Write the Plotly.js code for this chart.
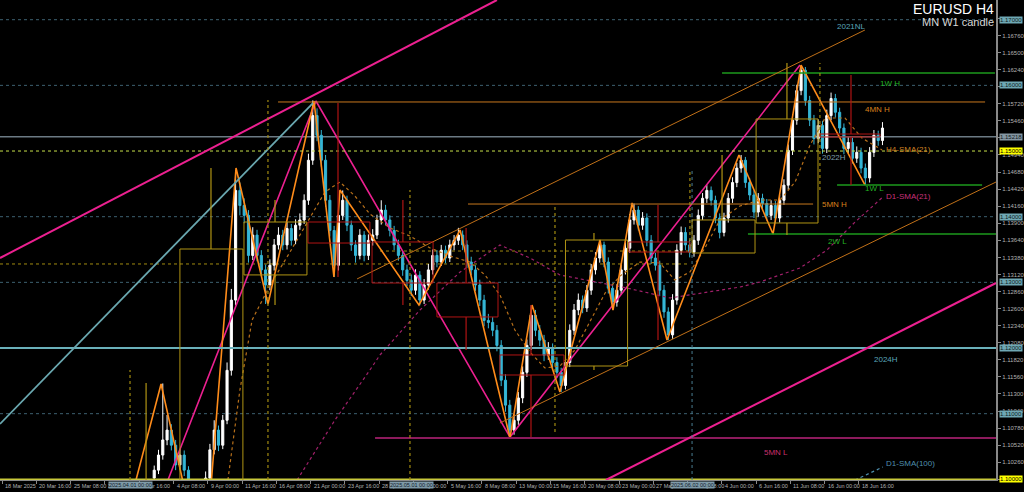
<!DOCTYPE html>
<html><head><meta charset="utf-8">
<script src="https://cdn.plot.ly/plotly-3.0.1.min.js"></script>
<style>html,body{margin:0;padding:0;background:#000;}#chart{width:1024px;height:492px;}</style>
</head><body><div id="chart"></div>
<script>
// ---------- DATA ----------
// candles: H4 bar index of first candle, two H4 bars per candle
const firstBar = 72;
const barsPerCandle = 2;
const openP = [1.1002,1.1014,1.1037,1.1060,1.1075,1.1052,1.1022,1.1037,1.1014,1.0991,
1.0976,1.0968,1.0984,1.1002,1.1045,1.1075,1.1052,1.1090,1.1166,1.1273,
1.1440,1.1417,1.1402,1.1341,1.1372,1.1341,1.1319,1.1296,1.1326,1.1357,
1.1372,1.1357,1.1382,1.1364,1.1387,1.1395,1.1425,1.1486,1.1554,1.1524,
1.1486,1.1425,1.1379,1.1326,1.1402,1.1425,1.1387,1.1357,1.1341,1.1372,
1.1341,1.1364,1.1372,1.1395,1.1410,1.1395,1.1379,1.1357,1.1341,1.1319,
1.1303,1.1288,1.1311,1.1273,1.1296,1.1319,1.1341,1.1331,1.1349,1.1337,
1.1357,1.1364,1.1372,1.1357,1.1331,1.1319,1.1296,1.1273,1.1242,1.1239,
1.1227,1.1204,1.1151,1.1113,1.1075,1.1090,1.1124,1.1163,1.1204,1.1250,
1.1227,1.1212,1.1189,1.1200,1.1178,1.1163,1.1143,1.1178,1.1227,1.1258,
1.1273,1.1261,1.1288,1.1319,1.1337,1.1357,1.1331,1.1291,1.1270,1.1288,
1.1319,1.1352,1.1395,1.1410,1.1387,1.1398,1.1364,1.1337,1.1326,1.1288,
1.1255,1.1220,1.1273,1.1349,1.1376,1.1357,1.1346,1.1364,1.1402,1.1428,
1.1440,1.1425,1.1398,1.1376,1.1398,1.1428,1.1452,1.1474,1.1486,1.1452,
1.1433,1.1407,1.1428,1.1420,1.1402,1.1417,1.1398,1.1425,1.1448,1.1501,
1.1547,1.1592,1.1623,1.1577,1.1547,1.1519,1.1539,1.1504,1.1554,1.1580,
1.1559,1.1535,1.1504,1.1513,1.1489,1.1498,1.1474,1.1459,1.1498,1.1524,
1.1516];
const highP = [1.1021,1.1045,1.1146,1.1098,1.1084,1.1060,1.1046,1.1044,1.1020,1.0998,
1.0984,1.0992,1.1012,1.1054,1.1090,1.1082,1.1098,1.1178,1.1290,1.1471,
1.1452,1.1428,1.1410,1.1384,1.1380,1.1349,1.1327,1.1335,1.1366,1.1384,
1.1380,1.1392,1.1389,1.1396,1.1405,1.1434,1.1496,1.1577,1.1565,1.1532,
1.1494,1.1433,1.1386,1.1410,1.1440,1.1432,1.1394,1.1364,1.1381,1.1378,
1.1373,1.1381,1.1403,1.1425,1.1418,1.1402,1.1386,1.1365,1.1348,1.1327,
1.1312,1.1320,1.1317,1.1305,1.1328,1.1350,1.1349,1.1357,1.1356,1.1365,
1.1372,1.1383,1.1379,1.1364,1.1339,1.1326,1.1304,1.1281,1.1252,1.1247,
1.1235,1.1212,1.1160,1.1121,1.1099,1.1133,1.1172,1.1213,1.1265,1.1258,
1.1235,1.1220,1.1209,1.1207,1.1186,1.1170,1.1187,1.1236,1.1267,1.1283,
1.1280,1.1296,1.1328,1.1346,1.1364,1.1362,1.1338,1.1298,1.1297,1.1327,
1.1361,1.1404,1.1420,1.1416,1.1407,1.1405,1.1372,1.1345,1.1333,1.1296,
1.1262,1.1282,1.1358,1.1385,1.1384,1.1365,1.1372,1.1411,1.1436,1.1448,
1.1446,1.1432,1.1405,1.1406,1.1436,1.1460,1.1482,1.1494,1.1491,1.1459,
1.1440,1.1436,1.1435,1.1427,1.1425,1.1424,1.1433,1.1457,1.1510,1.1556,
1.1601,1.1630,1.1628,1.1584,1.1555,1.1548,1.1546,1.1563,1.1589,1.1587,
1.1566,1.1542,1.1521,1.1520,1.1507,1.1505,1.1481,1.1506,1.1532,1.1531,
1.1544];
const lowP = [1.0995,1.1008,1.1030,1.1052,1.1044,1.1014,1.1015,1.1005,1.0982,1.0968,
1.0958,1.0961,1.0977,1.0995,1.1038,1.1043,1.1046,1.1084,1.1158,1.1265,
1.1402,1.1390,1.1330,1.1334,1.1332,1.1310,1.1267,1.1288,1.1318,1.1350,
1.1349,1.1350,1.1356,1.1358,1.1380,1.1389,1.1418,1.1479,1.1515,1.1476,
1.1415,1.1370,1.1308,1.1318,1.1395,1.1378,1.1348,1.1330,1.1335,1.1332,
1.1334,1.1356,1.1366,1.1388,1.1387,1.1370,1.1349,1.1333,1.1310,1.1294,
1.1279,1.1281,1.1265,1.1267,1.1289,1.1312,1.1323,1.1325,1.1329,1.1331,
1.1349,1.1357,1.1349,1.1322,1.1311,1.1287,1.1264,1.1233,1.1230,1.1218,
1.1195,1.1142,1.1103,1.1064,1.1068,1.1083,1.1116,1.1156,1.1197,1.1218,
1.1203,1.1180,1.1182,1.1170,1.1154,1.1133,1.1137,1.1171,1.1220,1.1250,
1.1253,1.1255,1.1281,1.1312,1.1330,1.1323,1.1283,1.1258,1.1263,1.1281,
1.1312,1.1345,1.1388,1.1379,1.1380,1.1355,1.1328,1.1318,1.1279,1.1246,
1.1212,1.1214,1.1266,1.1342,1.1349,1.1338,1.1339,1.1357,1.1395,1.1421,
1.1417,1.1390,1.1367,1.1370,1.1391,1.1421,1.1445,1.1467,1.1444,1.1425,
1.1398,1.1400,1.1412,1.1394,1.1395,1.1390,1.1391,1.1418,1.1441,1.1494,
1.1540,1.1585,1.1569,1.1538,1.1510,1.1512,1.1496,1.1497,1.1547,1.1551,
1.1527,1.1495,1.1497,1.1481,1.1482,1.1466,1.1448,1.1452,1.1491,1.1508,
1.1509];
const closeP = [1.1014,1.1037,1.1060,1.1075,1.1052,1.1022,1.1037,1.1014,1.0991,1.0976,
1.0968,1.0984,1.1002,1.1045,1.1075,1.1052,1.1090,1.1166,1.1273,1.1440,
1.1417,1.1402,1.1341,1.1372,1.1341,1.1319,1.1296,1.1326,1.1357,1.1372,
1.1357,1.1382,1.1364,1.1387,1.1395,1.1425,1.1486,1.1554,1.1524,1.1486,
1.1425,1.1379,1.1326,1.1402,1.1425,1.1387,1.1357,1.1341,1.1372,1.1341,
1.1364,1.1372,1.1395,1.1410,1.1395,1.1379,1.1357,1.1341,1.1319,1.1303,
1.1288,1.1311,1.1273,1.1296,1.1319,1.1341,1.1331,1.1349,1.1337,1.1357,
1.1364,1.1372,1.1357,1.1331,1.1319,1.1296,1.1273,1.1242,1.1239,1.1227,
1.1204,1.1151,1.1113,1.1075,1.1090,1.1124,1.1163,1.1204,1.1250,1.1227,
1.1212,1.1189,1.1200,1.1178,1.1163,1.1143,1.1178,1.1227,1.1258,1.1273,
1.1261,1.1288,1.1319,1.1337,1.1357,1.1331,1.1291,1.1270,1.1288,1.1319,
1.1352,1.1395,1.1410,1.1387,1.1398,1.1364,1.1337,1.1326,1.1288,1.1255,
1.1220,1.1273,1.1349,1.1376,1.1357,1.1346,1.1364,1.1402,1.1428,1.1440,
1.1425,1.1398,1.1376,1.1398,1.1428,1.1452,1.1474,1.1486,1.1452,1.1433,
1.1407,1.1428,1.1420,1.1402,1.1417,1.1398,1.1425,1.1448,1.1501,1.1547,
1.1592,1.1623,1.1577,1.1547,1.1519,1.1539,1.1504,1.1554,1.1580,1.1559,
1.1535,1.1504,1.1513,1.1489,1.1498,1.1474,1.1459,1.1498,1.1524,1.1516,
1.1535];

// time axis (H4 bar index) labels
const xTickBars = [1,17,33,49,65,81,97,113,129,145,161,177,193,209,225,241,257,273,289,305,321,337,353,369,385,401];
const xTickText = ["18 Mar 2025","20 Mar 16:00","25 Mar 08:00","28 Mar 00:00","1 Apr 16:00","4 Apr 08:00","9 Apr 00:00","11 Apr 16:00","16 Apr 08:00","21 Apr 00:00","23 Apr 16:00","28 Apr 08:00","1 May 00:00","5 May 16:00","8 May 08:00","13 May 00:00","15 May 16:00","20 May 08:00","23 May 00:00","27 May 16:00","30 May 08:00","4 Jun 00:00","6 Jun 16:00","11 Jun 08:00","16 Jun 00:00","18 Jun 16:00"];
const yTickVals = [1.10000,1.10260,1.10520,1.10780,1.11040,1.11300,1.11560,1.11820,1.12080,1.12340,1.12600,1.12860,1.13120,1.13380,1.13640,1.13900,1.14160,1.14420,1.14680,1.14940,1.15200,1.15460,1.15720,1.15980,1.16240,1.16500,1.16760,1.17020];
const yTicksHidden = [1.10000, 1.15200, 1.15980, 1.17020]; // covered by price marks in the reference

// price levels
const roundLevels = [1.17, 1.16, 1.14, 1.13, 1.11];
const level2024H = 1.12;
const bidPrice = 1.15218;
const level115 = 1.15;
const level110 = 1.10;
// [price, fromBar, toBar]
const lvl4MNH = [1.15747, 129.8, 459.9];
const lvl1WH  = [1.16188, 337.1, 464.5];
const lvl1WL  = [1.14483, 390.8, 458.5];
const lvl2WL  = [1.13736, 349.2, 465];
const lvl5MNH = [1.14193, 218.5, 379.6];
const lvl5MNL = [1.10630, 175.1, 465];
const dotLvlA = [1.13280, 0, 322.1];
const dotLvlB = [1.13477, 177.4, 322.1];
// trend lines [bar0, price0, bar1, price1]
const trendPinkUpper = [0, 1.13371, 232.0, 1.1730];
const trendPinkLower = [282.9, 1.0999, 465, 1.12990];
const trendTeal = [0, 1.10843, 146.1, 1.15731];
const chanUpper = [166.7, 1.13052, 403.8, 1.16843];
const chanLower = [233.4, 1.10858, 465, 1.14528];
// zigzags
const zzBigBars = [76.6, 147.5, 238.1, 373.5];
const zzBigPrices = [1.09838, 1.15762, 1.10645, 1.16310];
const zzBars = [63.5, 75.2, 87.3, 98.0, 110.2, 125.1, 146.6, 155.9, 158.7, 195.6, 214.8, 238.1, 248.4, 261.4, 280.1, 286.2, 295.1, 311.4, 345.0, 360.9, 374.0, 403.8];
const zzPrices = [1.0999, 1.11452, 1.09686, 1.09686, 1.14742, 1.12670, 1.15762, 1.13082, 1.14406, 1.12655, 1.13797, 1.10630, 1.12655, 1.11330, 1.13645, 1.12579, 1.14209, 1.12122, 1.14940, 1.13736, 1.16310, 1.14483];
// weekly candles (MN W1 candle)
const wkLeft  = [84.0, 113.9, 143.8, 173.7, 204.0, 233.4, 264.0, 293.6, 323.1, 353.0, 382.8];
const wkRight = [113.4, 143.3, 172.7, 202.2, 232.5, 263.3, 293.0, 322.1, 352.5, 381.9, 410.8];
const wkOpen  = [1.0960, 1.13113, 1.13919, 1.13615, 1.12990, 1.11894, 1.11726, 1.13615, 1.13447, 1.13904, 1.15259];
const wkClose = [1.13508, 1.13919, 1.13599, 1.12990, 1.12473, 1.11589, 1.13645, 1.13462, 1.13950, 1.15488, 1.15214];
const wkHigh  = [1.14742, 1.14254, 1.15731, 1.14254, 1.13828, 1.12655, 1.13752, 1.14178, 1.14940, 1.16341, 1.16158];
const wkLow   = [1.0960, 1.12655, 1.13082, 1.12655, 1.11970, 1.10645, 1.11665, 1.12122, 1.13447, 1.13721, 1.14483];
const wkWickBar = [98.5, 128.4, 157.8, 188.1, 217.6, 247.9, 277.3, 307.2, 337.1, 367.4, 397.3];
const prevWickBar = 68.2, prevWickHigh = 1.11468;
// period separators
const sepBars   = [60.7, 125.1, 191.4, 259.1, 322.1, 382.8];
const sepTop    = [1.11665, 1.15777, 1.14406, 1.14178, 1.14711, 1.16341];
const sepBottom = [1.0999, 1.0999, 1.0999, 1.10721, 1.13447, 1.14406];
const sepBlueBar = 323.1, sepBlueTop = 1.14711;
const dateBoxBars = [60.7, 191.9, 323.1];
const dateBoxText = ["2025.04.01 00:00", "2025.05.01 00:00", "2025.06.02 00:00"];
// moving averages
const d1sma21Bars = [138.7,156.4,172.7,177.4,196.1,214.8,233.4,247.4,261.4,280.1,292.7,312.8,326.8,345.5,354.8,373.5,386.1,399.2,412.2];
const d1sma21 = [1.0999,1.10904,1.11665,1.11894,1.12579,1.13158,1.13569,1.13371,1.13113,1.12990,1.12914,1.12762,1.12838,1.12929,1.13006,1.13219,1.13493,1.13919,1.14300];
const h4sma21Bars = [106.4,112.0,117.7,126.1,135.4,144.7,151.7,158.7,165.7,172.7,182.1,191.4,200.8,210.1,219.4,226.4,233.4,240.4,247.4,254.4,261.4,268.4,275.5,282.5,289.5,298.8,308.1,315.1,322.1,329.1,336.1,345.5,354.8,364.2,371.2,378.2,385.2,394.5,402.4,411.8];
const h4sma21 = [1.0999,1.11361,1.12427,1.12960,1.13462,1.13980,1.14376,1.14528,1.14315,1.14041,1.13828,1.13706,1.13523,1.13401,1.13310,1.13113,1.12808,1.12274,1.11939,1.11696,1.11726,1.11970,1.12396,1.12838,1.13097,1.13310,1.13295,1.13036,1.13158,1.13523,1.13950,1.14163,1.14254,1.14254,1.14528,1.15092,1.15503,1.15503,1.15198,1.15016];
const d1sma100Bars = [399.2, 412.2];
const d1sma100 = [1.0999, 1.10188];
// object labels
const lblText  = ["2021NL","1W H","4MN H","H4-SMA(21)","2022H","1W L","D1-SMA(21)","5MN H","2W L","2024H","5MN L","D1-SMA(100)"];
const lblBar   = [389.8, 409.9, 402.9, 412.7, 382.8, 402.9, 412.7, 382.8, 385.6, 407.1, 355.8, 412.7];
const lblPrice = [1.16904, 1.16036, 1.15625, 1.15016, 1.14894, 1.14422, 1.14315, 1.14193, 1.13615, 1.11818, 1.10416, 1.10234];
const lblColor = ["#5aa6bb","#22b422","#d8801c","#d08020","#7c9ca8","#22b422","#c8307a","#d8801c","#22b422","#5aa6bb","#c8306e","#4f8fae"];
// highlighted price marks on the right axis
const markPrices = [1.17, 1.16, 1.15218, 1.15, 1.14, 1.13, 1.12, 1.11, 1.10];
const markKind   = ["r","r","bid","y","r","r","r","r","y"];

// ---------- BUILD ----------
const FONT = 'Liberation Sans, Arial, sans-serif';
const candleX = closeP.map((_, i) => firstBar + barsPerCandle * i);
const UP = '#ffffff', DOWN = '#35b6d6';
const traces = [{
  type: 'candlestick', x: candleX, open: openP, high: highP, low: lowP, close: closeP,
  increasing: {line: {color: UP, width: 1}, fillcolor: UP},
  decreasing: {line: {color: DOWN, width: 1}, fillcolor: DOWN},
  whiskerwidth: 0, hoverinfo: 'skip'
}];
function pl(x, y, color, width, dash) {
  traces.push({type: 'scatter', mode: 'lines', x: x, y: y, line: {color: color, width: width, dash: dash || 'solid'}, hoverinfo: 'skip'});
}
pl(d1sma21Bars, d1sma21, '#a0206a', 1.2, 'dot');
pl(h4sma21Bars, h4sma21, '#b8701a', 1.2, 'dot');
pl(d1sma100Bars, d1sma100, '#4f8fae', 1.2, 'dot');
pl(zzBigBars, zzBigPrices, '#ec2090', 1.6);
pl(zzBars, zzPrices, '#ff8c1a', 1.6);

const shapes = [];
function seg(x0, y0, x1, y1, color, width, dash, layer) {
  shapes.push({type: 'line', xref: 'x', yref: 'y', x0: x0, y0: y0, x1: x1, y1: y1,
    line: {color: color, width: width, dash: dash || 'solid'}, layer: layer || 'above'});
}
function full(p, color, width, dash, layer) {
  shapes.push({type: 'line', xref: 'paper', x0: 0, x1: 1, yref: 'y', y0: p, y1: p,
    line: {color: color, width: width, dash: dash || 'solid'}, layer: layer || 'below'});
}
roundLevels.forEach(p => full(p, '#3d6070', 1, 'dot'));
full(level2024H, '#6ab0ba', 2, 'solid', 'above');
full(bidPrice, '#6c7a84', 1.5, 'solid', 'below');
full(level115, '#c8e04a', 1, 'dot', 'above');
full(level110, '#c8c83a', 1.5, 'solid', 'above');
seg(dotLvlA[1], dotLvlA[0], dotLvlA[2], dotLvlA[0], '#a08a10', 1, 'dot', 'below');
seg(dotLvlB[1], dotLvlB[0], dotLvlB[2], dotLvlB[0], '#a08a10', 1, 'dot', 'below');
[[lvl4MNH, '#c8781e', 1], [lvl5MNH, '#c8781e', 1], [lvl1WH, '#1c9a1c', 1.5], [lvl1WL, '#1c9a1c', 1.5], [lvl2WL, '#1c9a1c', 1.5], [lvl5MNL, '#8c1a5c', 2]]
  .forEach(([L, c, w]) => seg(L[1], L[0], L[2], L[0], c, w));
seg(trendPinkUpper[0], trendPinkUpper[1], trendPinkUpper[2], trendPinkUpper[3], '#ec2090', 2);
seg(trendPinkLower[0], trendPinkLower[1], trendPinkLower[2], trendPinkLower[3], '#ec2090', 2);
seg(trendTeal[0], trendTeal[1], trendTeal[2], trendTeal[3], '#6aa8b0', 1.8);
seg(chanUpper[0], chanUpper[1], chanUpper[2], chanUpper[3], '#c07018', 1);
seg(chanLower[0], chanLower[1], chanLower[2], chanLower[3], '#c07018', 1);
sepBars.forEach((b, i) => seg(b, sepBottom[i], b, sepTop[i], '#a08a10', 1.2, 'dot'));
seg(sepBlueBar, 1.0999, sepBlueBar, sepBlueTop, '#4a7c90', 1, 'dot');
wkLeft.forEach((l, i) => {
  const bull = wkClose[i] >= wkOpen[i];
  const col = bull ? '#b09414' : '#b01414';
  shapes.push({type: 'rect', xref: 'x', yref: 'y', x0: l, x1: wkRight[i], y0: wkOpen[i], y1: wkClose[i],
    line: {color: col, width: 1}, fillcolor: 'rgba(0,0,0,0)', layer: 'above'});
  const top = Math.max(wkOpen[i], wkClose[i]), bot = Math.min(wkOpen[i], wkClose[i]);
  seg(wkWickBar[i], top, wkWickBar[i], wkHigh[i], col, 1.2);
  seg(wkWickBar[i], bot, wkWickBar[i], wkLow[i], col, 1.2);
});
seg(prevWickBar, 1.0990, prevWickBar, prevWickHigh, '#b09414', 1.2);

const ann = [];
// time labels, left-aligned just right of each tick (MetaTrader style)
xTickBars.forEach((b, i) => ann.push({xref: 'x', yref: 'paper', x: b, y: 0, xanchor: 'left', yanchor: 'top', xshift: 1, yshift: -1,
  text: xTickText[i], showarrow: false, font: {family: FONT, size: 5.5, color: '#b0b0b0'}}));
lblText.forEach((t, i) => ann.push({xref: 'x', yref: 'y', x: lblBar[i], y: lblPrice[i], text: t, showarrow: false,
  xanchor: 'left', yanchor: 'middle', font: {family: FONT, size: 8, color: lblColor[i]}}));
const markStyle = {r: ['#6fa8b4', '#0c1c22'], bid: ['#8496a2', '#101820'], y: ['#ffff00', '#000000']};
markPrices.forEach((p, i) => ann.push({xref: 'paper', yref: 'y', x: 1, y: p, xanchor: 'left', yanchor: 'middle', xshift: 3,
  text: p.toFixed(5), showarrow: false, bgcolor: markStyle[markKind[i]][0], borderpad: 0,
  font: {family: FONT, size: 6, color: markStyle[markKind[i]][1]}}));
dateBoxBars.forEach((b, i) => ann.push({xref: 'x', yref: 'paper', x: b, y: 0, xanchor: 'center', yanchor: 'top', yshift: -1,
  text: dateBoxText[i], showarrow: false, bgcolor: '#7f9aa8', borderpad: 0,
  font: {family: FONT, size: 5.5, color: '#10202a'}}));
ann.push({xref: 'paper', yref: 'paper', x: 1, y: 1, xanchor: 'right', yanchor: 'top', yshift: 1, text: 'EURUSD H4', showarrow: false,
  font: {family: FONT, size: 14, color: '#ffffff'}});
ann.push({xref: 'paper', yref: 'paper', x: 1, y: 1, xanchor: 'right', yanchor: 'top', yshift: -14, text: 'MN W1 candle', showarrow: false,
  font: {family: FONT, size: 11, color: '#d8d8d8'}});

const layout = {
  width: 1024, height: 492,
  paper_bgcolor: '#000000', plot_bgcolor: '#000000',
  margin: {l: 0, r: 28, t: 0, b: 12},
  showlegend: false,
  xaxis: {range: [0, 465], tickvals: xTickBars, ticks: 'outside', ticklen: 3, tickcolor: '#888', showticklabels: false,
    showgrid: false, zeroline: false, showline: true, linecolor: '#8a8a8a', linewidth: 1, rangeslider: {visible: false}, fixedrange: true},
  yaxis: {range: [1.0999, 1.1730], side: 'right', tickvals: yTickVals,
    ticktext: yTickVals.map(v => yTicksHidden.some(h => Math.abs(h - v) < 1e-7) ? '' : v.toFixed(5)),
    ticks: 'outside', ticklen: 3, tickcolor: '#888', tickfont: {family: FONT, size: 6, color: '#b0b0b0'},
    showgrid: false, zeroline: false, showline: true, linecolor: '#8a8a8a', linewidth: 2, fixedrange: true},
  shapes: shapes,
  annotations: ann
};
Plotly.newPlot('chart', traces, layout, {displayModeBar: false, staticPlot: true});
</script>
</body></html>
